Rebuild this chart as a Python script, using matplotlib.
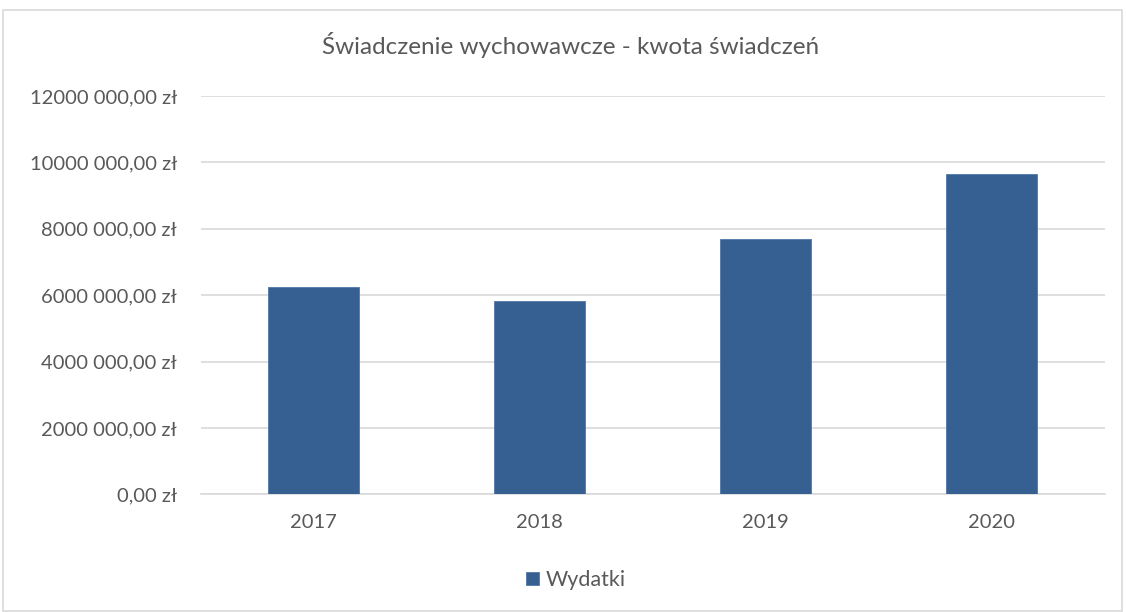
import matplotlib
matplotlib.use("Agg")
import matplotlib.pyplot as plt
from matplotlib.patches import Rectangle

years = ["2017", "2018", "2019", "2020"]
wydatki = [6245000, 5830000, 7680000, 9640000]
yticks = [0, 2000000, 4000000, 6000000, 8000000, 10000000, 12000000]
ytick_labels = ["0,00 zł", "2000 000,00 zł", "4000 000,00 zł", "6000 000,00 zł",
                "8000 000,00 zł", "10000 000,00 zł", "12000 000,00 zł"]
title = "Świadczenie wychowawcze - kwota świadczeń"
series_name = "Wydatki"

plt.rcParams['font.family'] = ['Lato', 'DejaVu Sans']
W, H = 1126, 612
fig = plt.figure(figsize=(W / 100, H / 100), dpi=100)
fig.patch.set_facecolor("white")
fig.add_artist(Rectangle((3 / W, 1 - 611 / H), 1119 / W, 601 / H, transform=fig.transFigure,
                         fill=False, edgecolor="#d9d9d9", linewidth=1.2))

ax = fig.add_axes([200.5 / W, 1 - 494.3 / H, 904 / W, 398.3 / H])
x = range(len(years))
ax.bar(x, wydatki, width=0.40, color="#366092", edgecolor="#5078a8", linewidth=0.6,
       zorder=3, label=series_name)
ax.set_xlim(-0.5, len(years) - 0.5)
ax.set_ylim(0, 12000000)
ax.set_yticks(yticks)
ax.set_yticklabels(ytick_labels)
ax.set_xticks(list(x))
ax.set_xticklabels(years)
ax.grid(axis="y", color="#d9d9d9", linewidth=1.2, zorder=0)
for s in ["top", "right", "left"]:
    ax.spines[s].set_visible(False)
ax.spines["bottom"].set_color("#d9d9d9")
ax.spines["bottom"].set_linewidth(1.2)
ax.tick_params(axis="both", length=0, labelsize=14.5, colors="#595959")
ax.tick_params(axis="y", pad=17)
ax.tick_params(axis="x", pad=14)

fig.text(571 / W, 1 - 45 / H, title, ha="center", va="center", fontsize=17.5, color="#595959")

leg = fig.legend(handles=ax.containers[0][:1], labels=[series_name], loc="center",
                 bbox_to_anchor=(576 / W, 1 - 580 / H), frameon=False, fontsize=15.5,
                 handlelength=0.6, handleheight=0.6, handletextpad=0.3)
for t in leg.get_texts():
    t.set_color("#595959")

fig.savefig("out.png", dpi=100, facecolor="white")
